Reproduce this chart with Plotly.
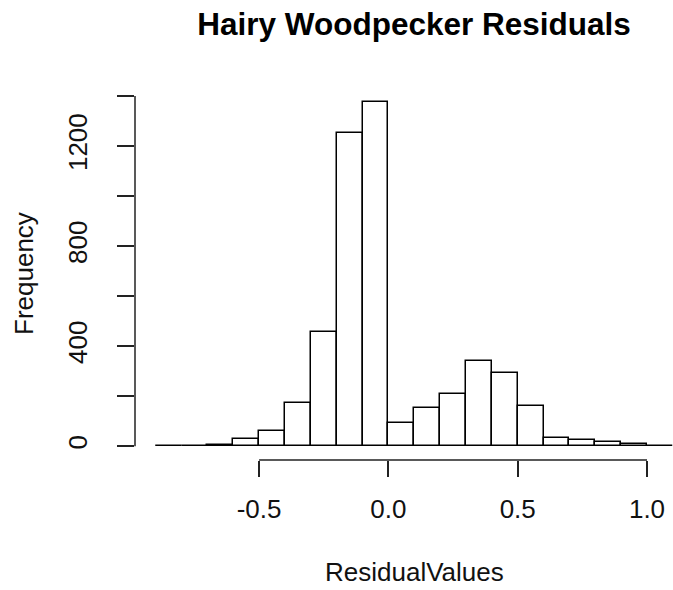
import plotly.graph_objects as go

# Histogram data
breaks = [-0.9, -0.8, -0.7, -0.6, -0.5, -0.4, -0.3, -0.2, -0.1, 0.0,
          0.1, 0.2, 0.3, 0.4, 0.5, 0.6, 0.7, 0.8, 0.9, 1.0, 1.1]
counts = [1, 2, 3, 28, 60, 173, 458, 1253, 1377, 93,
          153, 210, 339, 293, 162, 33, 24, 16, 9, 2]

x_tickvals = [-0.5, 0.0, 0.5, 1.0]
x_ticktext = ["-0.5", "0.0", "0.5", "1.0"]
y_tickvals = [0, 200, 400, 600, 800, 1000, 1200, 1400]
y_ticktext = ["0", "", "400", "", "800", "", "1200", ""]

title_text = "Hairy Woodpecker Residuals"
x_title = "ResidualValues"
y_title = "Frequency"

centers = [(breaks[i] + breaks[i + 1]) / 2 for i in range(len(counts))]
widths = [breaks[i + 1] - breaks[i] for i in range(len(counts))]

FONT = "Liberation Sans, Arial, Helvetica, sans-serif"

fig = go.Figure(go.Bar(
    x=centers, y=counts, width=widths,
    marker=dict(color="white", line=dict(color="black", width=1.5)),
    hoverinfo="x+y",
))

axis_col = "#222222"

fig.update_layout(
    width=673, height=590,
    margin=dict(l=135, r=0, t=88, b=130),
    paper_bgcolor="white", plot_bgcolor="white",
    showlegend=False,
    bargap=0,
    font=dict(family=FONT, color="black", size=26),
    title=dict(text="<b>" + title_text + "</b>", font=dict(size=31.5, family=FONT, color="black"),
               xref="container", x=414 / 673, xanchor="center",
               yref="container", y=1 - 24 / 590, yanchor="middle"),
    xaxis=dict(range=[-0.98, 1.1005], tickvals=x_tickvals, ticktext=x_ticktext,
               ticks="outside", ticklen=16, tickwidth=1.5, tickcolor=axis_col,
               showline=False, showgrid=False, zeroline=False,
               tickfont=dict(size=26, family=FONT, color="#111"),
               ticklabelstandoff=10),
    yaxis=dict(range=[-55, 1432], tickvals=y_tickvals, ticktext=y_ticktext,
               ticks="outside", ticklen=17, tickwidth=1.5, tickcolor=axis_col,
               showline=False, showgrid=False, zeroline=False,
               tickangle=-90,
               tickfont=dict(size=26, family=FONT, color="#111"),
               ticklabelstandoff=20),
    annotations=[
        dict(text=x_title, xref="paper", yref="paper",
             x=(414 - 135) / 538, y=(460.5 - 573) / 372.7,
             xanchor="center", yanchor="middle", showarrow=False,
             font=dict(size=26, family=FONT, color="#111")),
        dict(text=y_title, xref="paper", yref="paper",
             x=(24 - 135) / 538, y=0.5, textangle=-90,
             xanchor="center", yanchor="middle", showarrow=False,
             font=dict(size=26, family=FONT, color="#111")),
    ],
    shapes=[
        dict(type="line", xref="x", yref="paper",
             x0=x_tickvals[0], x1=x_tickvals[-1], y0=0, y1=0,
             line=dict(color=axis_col, width=1.5)),
        dict(type="line", xref="paper", yref="y",
             x0=0, x1=0, y0=y_tickvals[0], y1=y_tickvals[-1],
             line=dict(color=axis_col, width=1.5)),
    ],
)

fig.write_html("out.html")
